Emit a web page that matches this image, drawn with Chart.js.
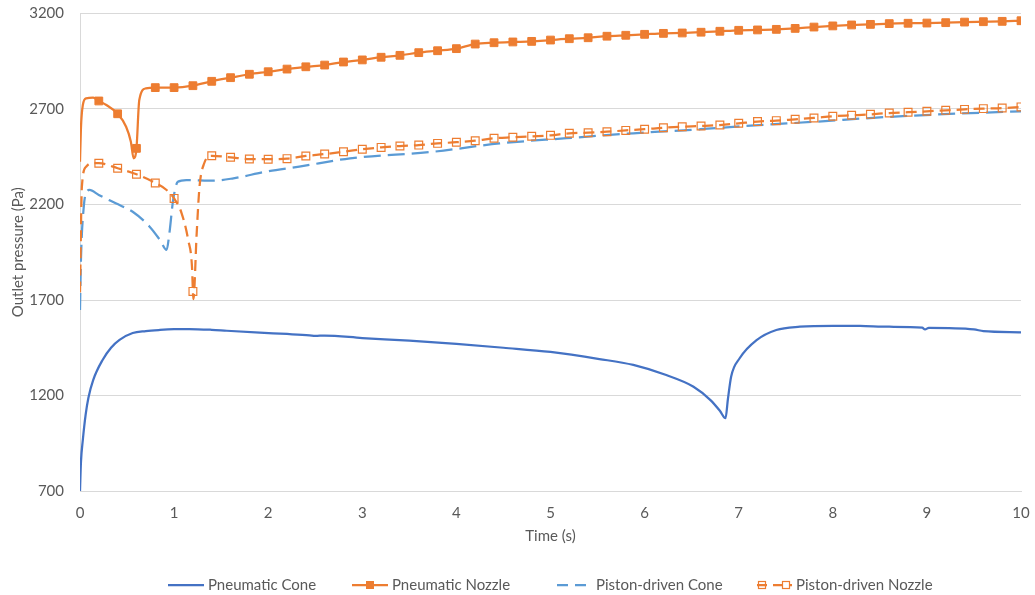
<!DOCTYPE html>
<html>
<head>
<meta charset="utf-8">
<title>Outlet pressure vs time</title>
<script src="https://cdn.jsdelivr.net/npm/chart.js@4/dist/chart.umd.min.js"></script>
<style>
  html, body { margin: 0; padding: 0; background: #ffffff; }
  #wrap { position: relative; width: 1035px; height: 595px; }
</style>
</head>
<body>
<div id="wrap"><canvas id="chart" width="1035" height="595"></canvas></div>
<script>
// Time axis ticks (s) and pressure axis ticks (Pa)
const timeTicks = [0, 1, 2, 3, 4, 5, 6, 7, 8, 9, 10];
const pressureTicks = [700, 1200, 1700, 2200, 2700, 3200];

const seriesNames = ['Pneumatic Cone', 'Pneumatic Nozzle', 'Piston-driven Cone', 'Piston-driven Nozzle'];

// Pneumatic Cone
const pneumaticConeTime = [0, 0.01, 0.03, 0.06, 0.09, 0.14, 0.24, 0.33, 0.42, 0.56, 0.7, 0.85, 1.0, 1.16, 1.4, 1.56, 1.91, 2.2, 2.44, 2.5, 2.6, 3.0, 3.5, 4.0, 4.5, 5.0, 5.52, 5.88, 6.23, 6.52, 6.7, 6.8, 6.86, 6.885, 6.92, 7.01, 7.19, 7.4, 7.65, 8.0, 8.29, 8.6, 8.95, 8.98, 9.02, 9.5, 9.6, 10.0];
const pneumaticConeValue = [700, 850, 967, 1100, 1190, 1281, 1386, 1450, 1491, 1527, 1537, 1543, 1547, 1548, 1544, 1539, 1529, 1522, 1515, 1512, 1514, 1501, 1487, 1470, 1450, 1428, 1391, 1360, 1307, 1246, 1176, 1120, 1081, 1180, 1300, 1395, 1490, 1543, 1560, 1565, 1564, 1560, 1555, 1546, 1554, 1546, 1537, 1531];

// Pneumatic Nozzle
const pneumaticNozzleTime = [0, 0.01, 0.03, 0.065, 0.14, 0.2, 0.28, 0.4, 0.49, 0.54, 0.57, 0.6, 0.63, 0.7, 0.8, 1.0, 1.2, 1.4, 1.6, 1.8, 2.0, 2.2, 2.4, 2.6, 2.8, 3.0, 3.2, 3.4, 3.6, 3.8, 4.0, 4.2, 4.4, 4.6, 4.8, 5.0, 5.2, 5.4, 5.6, 5.8, 6.0, 6.2, 6.4, 6.6, 6.8, 7.0, 7.2, 7.4, 7.6, 7.8, 8.0, 8.2, 8.4, 8.6, 8.8, 9.0, 9.2, 9.4, 9.6, 9.8, 10.0];
const pneumaticNozzleValue = [2424, 2600, 2720, 2756, 2759, 2742, 2721, 2675, 2607, 2530, 2442, 2494, 2747, 2808, 2812, 2812, 2822, 2845, 2864, 2882, 2895, 2909, 2921, 2930, 2946, 2957, 2971, 2981, 2995, 3005, 3016, 3040, 3047, 3051, 3054, 3061, 3068, 3073, 3081, 3086, 3091, 3096, 3098, 3102, 3107, 3112, 3114, 3117, 3122, 3129, 3135, 3140, 3143, 3147, 3149, 3150, 3152, 3155, 3157, 3159, 3162];

// Piston-driven Cone
const pistonConeTime = [0, 0.01, 0.04, 0.07, 0.1, 0.2, 0.38, 0.56, 0.74, 0.85, 0.92, 0.95, 0.99, 1.04, 1.13, 1.42, 1.63, 1.98, 2.33, 2.87, 3.75, 4.46, 5.17, 5.88, 6.59, 7.08, 7.83, 8.54, 9.24, 10.0];
const pistonConeValue = [1648, 1910, 2188, 2267, 2276, 2250, 2206, 2162, 2084, 2014, 1962, 2049, 2224, 2319, 2328, 2325, 2337, 2372, 2398, 2442, 2476, 2520, 2547, 2573, 2594, 2611, 2634, 2657, 2674, 2688];

// Piston-driven Nozzle
const pistonNozzleTime = [0, 0.02, 0.065, 0.12, 0.2, 0.4, 0.6, 0.8, 0.92, 1.0, 1.08, 1.15, 1.19, 1.2, 1.205, 1.24, 1.27, 1.32, 1.4, 1.6, 1.8, 2.0, 2.2, 2.4, 2.6, 2.8, 3.0, 3.2, 3.4, 3.6, 3.8, 4.0, 4.2, 4.4, 4.6, 4.8, 5.0, 5.2, 5.4, 5.6, 5.8, 6.0, 6.2, 6.4, 6.6, 6.8, 7.0, 7.2, 7.4, 7.6, 7.8, 8.0, 8.2, 8.4, 8.6, 8.8, 9.0, 9.2, 9.4, 9.6, 9.8, 10.0];
const pistonNozzleValue = [1740, 2293, 2398, 2416, 2416, 2390, 2358, 2313, 2276, 2232, 2154, 2014, 1874, 1745, 1705, 2049, 2293, 2416, 2455, 2447, 2438, 2437, 2440, 2454, 2464, 2476, 2489, 2499, 2506, 2511, 2520, 2526, 2534, 2547, 2552, 2557, 2562, 2573, 2576, 2581, 2588, 2594, 2602, 2607, 2611, 2616, 2625, 2634, 2639, 2646, 2653, 2662, 2667, 2672, 2679, 2683, 2688, 2693, 2698, 2702, 2705, 2711];

const BLUE = '#4472C4';
const ORANGE = '#ED7D31';
const LIGHT_BLUE = '#5B9BD5';
const TEXT = '#595959';
const GRID = '#d9d9d9';
const CLEAR = 'rgba(0,0,0,0)';
const FONT = 'Lato, "Open Sans", sans-serif';
const FONT_SIZE = 15;

function toPoints(times, values) {
  return times.map((t, i) => ({ x: t, y: values[i] }));
}

// Nozzle markers sit on the 0.2 s sampling grid
function onMarkerGrid(t) {
  if (t === undefined || t <= 0) return false;
  const k = t * 5;
  return Math.abs(k - Math.round(k)) < 1e-6;
}
function markerRadius(ctx) {
  const raw = ctx.raw;
  return raw && onMarkerGrid(raw.x) ? 5.5 : 0;
}

// Legend drawn as line samples with markers, Office style
const legendItems = [
  { x0: 168, x1: 204, tx: 208, color: BLUE, dash: [], marker: null },
  { x0: 352, x1: 388, tx: 392, color: ORANGE, dash: [], marker: 'filled' },
  { x0: 557, x1: 592, tx: 596, color: LIGHT_BLUE, dash: [11, 7], marker: null },
  { x0: 757, x1: 792, tx: 796, color: ORANGE, dash: [10, 6], marker: 'open2' }
];
const legendPlugin = {
  id: 'officeLegend',
  afterDraw(chart) {
    const ctx = chart.ctx;
    const y = 585;
    ctx.save();
    legendItems.forEach((it, i) => {
      ctx.strokeStyle = it.color;
      ctx.lineWidth = 2.25;
      ctx.setLineDash(it.dash);
      ctx.beginPath();
      ctx.moveTo(it.x0, y);
      ctx.lineTo(it.x1, y);
      ctx.stroke();
      ctx.setLineDash([]);
      if (it.marker === 'filled') {
        const cx = (it.x0 + it.x1) / 2;
        ctx.fillStyle = it.color;
        ctx.fillRect(cx - 4, y - 4, 8, 8);
      } else if (it.marker === 'open2') {
        ctx.lineWidth = 1.2;
        [it.x0 + 5, it.x1 - 6].forEach(cx => {
          ctx.strokeRect(cx - 3.5, y - 3.5, 7, 7);
        });
      }
      ctx.fillStyle = TEXT;
      ctx.font = FONT_SIZE + 'px ' + FONT;
      ctx.textAlign = 'left';
      ctx.textBaseline = 'middle';
      ctx.fillText(seriesNames[i], it.tx, y);
    });
    ctx.restore();
  }
};

const commonLine = {
  borderWidth: 2.25,
  cubicInterpolationMode: 'monotone',
  fill: false
};

new Chart(document.getElementById('chart'), {
  type: 'line',
  data: {
    datasets: [
      Object.assign({}, commonLine, {
        label: seriesNames[0],
        data: toPoints(pneumaticConeTime, pneumaticConeValue),
        borderColor: BLUE,
        pointRadius: 0,
        order: 4
      }),
      Object.assign({}, commonLine, {
        label: seriesNames[1],
        data: toPoints(pneumaticNozzleTime, pneumaticNozzleValue),
        borderColor: ORANGE,
        pointStyle: 'rect',
        pointRadius: markerRadius,
        pointHoverRadius: markerRadius,
        pointBackgroundColor: ORANGE,
        pointBorderColor: ORANGE,
        pointBorderWidth: 1,
        order: 3
      }),
      Object.assign({}, commonLine, {
        label: seriesNames[2],
        data: toPoints(pistonConeTime, pistonConeValue),
        borderColor: LIGHT_BLUE,
        borderDash: [17, 7],
        pointRadius: 0,
        order: 2
      }),
      Object.assign({}, commonLine, {
        label: seriesNames[3],
        data: toPoints(pistonNozzleTime, pistonNozzleValue),
        borderColor: ORANGE,
        borderDash: [11, 6],
        pointStyle: 'rect',
        pointRadius: markerRadius,
        pointHoverRadius: markerRadius,
        pointBackgroundColor: 'rgba(255,255,255,0)',
        pointBorderColor: ORANGE,
        pointBorderWidth: 1.2,
        order: 1
      })
    ]
  },
  options: {
    responsive: false,
    animation: false,
    layout: { padding: { left: 0, right: 14, top: 13.5, bottom: 44 } },
    plugins: {
      legend: { display: false },
      tooltip: { enabled: false }
    },
    scales: {
      x: {
        type: 'linear',
        min: 0,
        max: 10,
        afterBuildTicks(scale) { scale.ticks = timeTicks.map(v => ({ value: v })); },
        afterFit(scale) { scale.height = 60; },
        grid: {
          display: true, drawOnChartArea: false, drawTicks: true,
          tickLength: 13, tickColor: CLEAR, color: CLEAR
        },
        border: { display: true, color: GRID, width: 1 },
        ticks: {
          color: TEXT, font: { family: FONT, size: FONT_SIZE }, padding: 0, maxRotation: 0,
          callback: v => String(v)
        },
        title: {
          display: true,
          text: 'Time (s)',
          color: TEXT,
          font: { family: FONT, size: FONT_SIZE },
          padding: { top: 0, bottom: 6 }
        }
      },
      y: {
        min: 700,
        max: 3200,
        afterBuildTicks(scale) { scale.ticks = pressureTicks.map(v => ({ value: v })); },
        afterFit(scale) { scale.width = 80; },
        grid: {
          color: GRID, lineWidth: 1, drawTicks: true,
          tickLength: 16, tickColor: CLEAR
        },
        border: { display: true, color: GRID, width: 1 },
        ticks: {
          color: TEXT, font: { family: FONT, size: FONT_SIZE }, padding: 0,
          callback: v => String(v)
        },
        title: {
          display: true,
          text: 'Outlet pressure (Pa)',
          color: TEXT,
          font: { family: FONT, size: FONT_SIZE },
          padding: { top: 9, bottom: 0 }
        }
      }
    }
  },
  plugins: [legendPlugin]
});
</script>
</body>
</html>
